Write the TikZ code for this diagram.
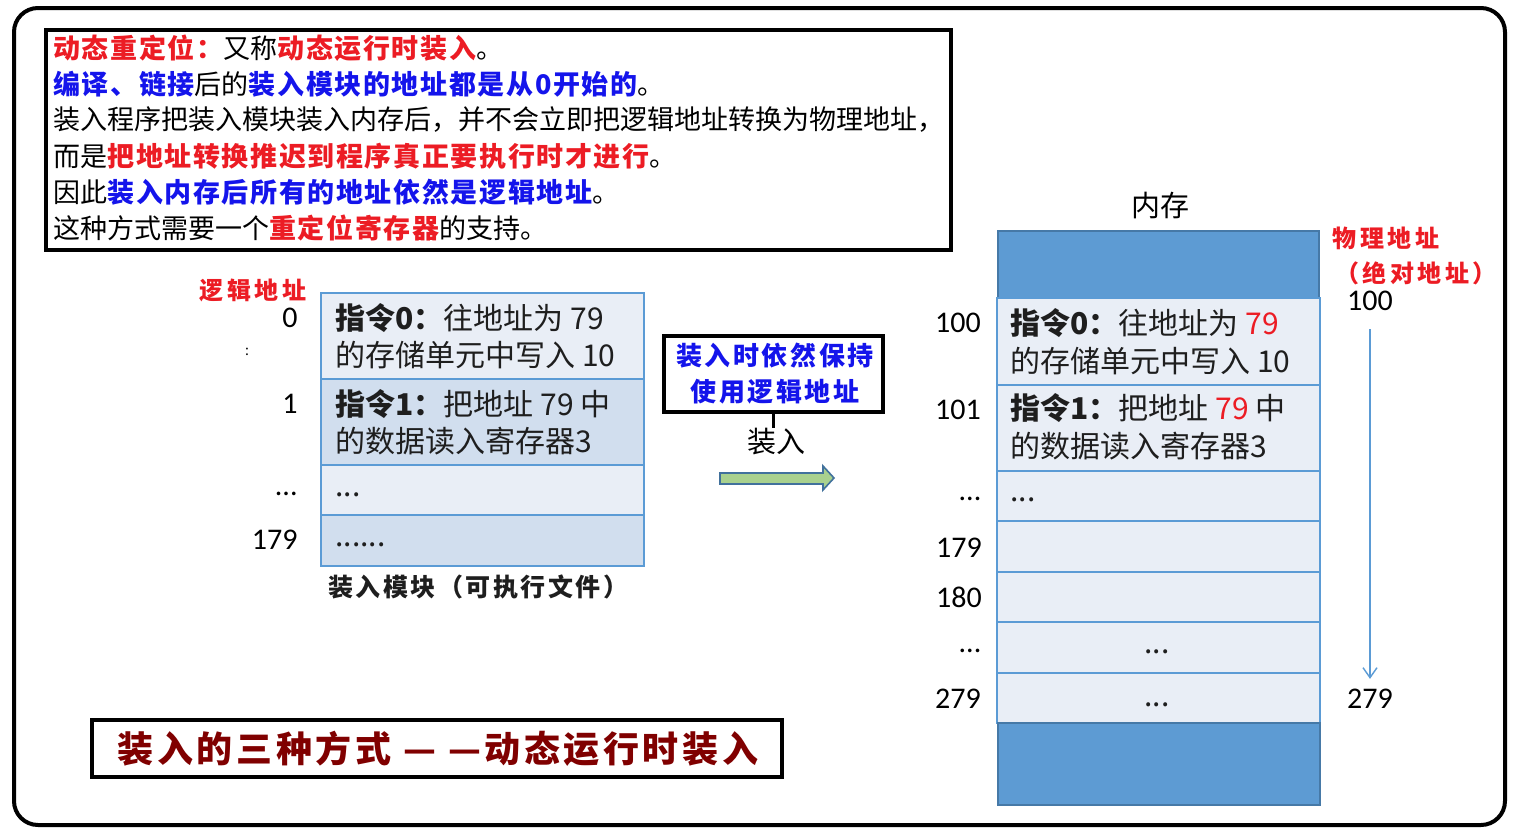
\documentclass[tikz,border=0pt]{standalone}
\usepackage{fontspec}
\setmainfont{Noto Sans CJK SC}
\newfontfamily\numf{Carlito}
\newfontfamily\lsA{Noto Sans CJK SC}[LetterSpace=6]
\newfontfamily\lsB{Noto Sans CJK SC}[LetterSpace=10]
\newfontfamily\lsC{Noto Sans CJK SC}[LetterSpace=15]
\usetikzlibrary{arrows.meta}
\definecolor{cellA}{RGB}{233,238,246}
\definecolor{cellB}{RGB}{209,222,238}
\definecolor{cellline}{RGB}{91,155,213}
\definecolor{memblue}{RGB}{93,155,211}
\definecolor{tred}{RGB}{236,28,36}
\definecolor{tblue}{RGB}{20,20,235}
\definecolor{dred}{RGB}{128,0,0}
\definecolor{agreen}{RGB}{169,209,142}
\definecolor{aedge}{RGB}{65,113,156}
\definecolor{ink}{RGB}{30,30,30}
\newcommand{\rb}[1]{\textcolor{tred}{\lsA\bfseries #1}}
\newcommand{\bb}[1]{\textcolor{tblue}{\lsA\bfseries #1}}
\tikzset{
  topline/.style={anchor=west, inner sep=0pt, font=\fontsize{13.5pt}{15pt}\selectfont},
  celltxt/.style={anchor=west, inner sep=0pt, text=ink, font=\fontsize{15pt}{17pt}\selectfont},
  numlbl/.style={inner sep=0pt, text=black, font=\numf\fontsize{15pt}{17pt}\selectfont},
  redhead/.style={inner sep=0pt, text=tred, font=\lsC\bfseries\fontsize{12pt}{14pt}\selectfont},
  cellAfill/.style={fill=cellA, draw=cellline, line width=1pt},
  cellBfill/.style={fill=cellB, draw=cellline, line width=1pt},
  memdark/.style={fill=memblue, draw=aedge!80!cellline, line width=1pt},
  blackbox/.style={draw=black, line width=1.6pt},
}
\begin{document}
\begin{tikzpicture}[x=0.5pt,y=-0.5pt]
\useasboundingbox (0,0) rectangle (1522,831);
% outer frame
\draw[line width=2pt, rounded corners=12pt] (14,8) rectangle (1505,825);

% top text box
\draw[blackbox] (46,30) rectangle (951,250);
\node[topline] (t1) at (53,48) {\rb{动态重定位：}又称\rb{动态运行时装入}。};
\node[topline] (t2) at (53,84) {\bb{编译、链接}后的\bb{装入模块的地址都是从0开始的}。};
\node[topline] (t3) at (53,120) {装入程序把装入模块装入内存后，并不会立即把逻辑地址转换为物理地址，};
\node[topline] (t4) at (53,156) {而是\rb{把地址转换推迟到程序真正要执行时才进行}。};
\node[topline] (t5) at (53,192) {因此\bb{装入内存后所有的地址依然是逻辑地址}。};
\node[topline] (t6) at (53,228) {这种方式需要一个\rb{重定位寄存器}的支持。};

% left module
\node[redhead] (lhead) at (253,290) {逻辑地址};
\path[cellAfill] (321,293) rectangle (644,379);
\path[cellBfill] (321,379) rectangle (644,465);
\path[cellAfill] (321,465) rectangle (644,515);
\path[cellBfill] (321,515) rectangle (644,566);
\node[celltxt] (l0a) at (335,318) {\textbf{指令0：}往地址为 79};
\node[celltxt] (l0b) at (335,355) {的存储单元中写入 10};
\node[celltxt] (l1a) at (335,404) {\textbf{指令1：}把地址 79 中};
\node[celltxt] (l1b) at (335,441) {的数据读入寄存器3};
\node[celltxt] (l2) at (335,495) {...};
\node[celltxt] (l3) at (335,545) {......};
\node[numlbl, anchor=east] (ln0) at (298,318) {0};
\node[inner sep=0pt, font=\fontsize{7pt}{8pt}\selectfont] (lcolon) at (247,352) {:};
\node[numlbl, anchor=east] (ln1) at (298,404) {1};
\node[numlbl, anchor=east] (ln2) at (298,494) {...};
\node[numlbl, anchor=east] (ln3) at (298,540) {179};
\node[inner sep=0pt, text=ink, font=\lsB\bfseries\fontsize{12.5pt}{14pt}\selectfont] (lcap) at (478,587) {装入模块（可执行文件）};

% middle
\node[blackbox, minimum width=109.5pt, minimum height=38pt, inner sep=0pt] (keep) at (773.5,374) {};
\node[inner sep=0pt, text=tblue, font=\lsB\bfseries\fontsize{13pt}{14pt}\selectfont] (k1) at (775,356) {装入时依然保持};
\node[inner sep=0pt, text=tblue, font=\lsB\bfseries\fontsize{13pt}{14pt}\selectfont] (k2) at (775,392) {使用逻辑地址};
\node[inner sep=0pt, font=\fontsize{14.5pt}{16pt}\selectfont] (zr) at (776,442) {装入};
\draw[line width=1.5pt] (keep.south) -- ++(0,14) coordinate (kend);
\draw[fill=agreen, draw=aedge, line width=0.8pt] (720,473) -- (823,473) -- (823,466) -- (834,478) -- (823,490) -- (823,484) -- (720,484) -- cycle;

% memory
\node[inner sep=0pt, font=\fontsize{14.5pt}{16pt}\selectfont] (mem) at (1160,206) {内存};
\path[memdark] (998,231) rectangle (1319,298);
\path[cellAfill] (997,298) rectangle (1320,385);
\path[cellAfill] (997,385) rectangle (1320,471);
\path[cellAfill] (997,471) rectangle (1320,521);
\path[cellAfill] (997,521) rectangle (1320,572);
\path[cellAfill] (997,572) rectangle (1320,622);
\path[cellAfill] (997,622) rectangle (1320,673);
\path[cellAfill] (997,673) rectangle (1320,723);
\path[memdark] (998,723) rectangle (1320,805);
\node[celltxt] (m0a) at (1010,323) {\textbf{指令0：}往地址为 \textcolor{tred}{79}};
\node[celltxt] (m0b) at (1010,361) {的存储单元中写入 10};
\node[celltxt] (m1a) at (1010,408) {\textbf{指令1：}把地址 \textcolor{tred}{79} 中};
\node[celltxt] (m1b) at (1010,446) {的数据读入寄存器3};
\node[celltxt] (m2) at (1010,500) {...};
\node[celltxt, anchor=center] (m5) at (1157,652) {...};
\node[celltxt, anchor=center] (m6) at (1157,705) {...};
\node[numlbl] (mn0) at (958,323) {100};
\node[numlbl] (mn1) at (958,410) {101};
\node[numlbl] (mn2) at (970,499) {...};
\node[numlbl] (mn3) at (959,548) {179};
\node[numlbl] (mn4) at (959,597) {180};
\node[numlbl] (mn5) at (970,651) {...};
\node[numlbl] (mn6) at (958,699) {279};

% physical address
\node[redhead] (phead) at (1386,238) {物理地址};
\node[redhead] (phead2) at (1416,273) {（绝对地址）};
\node[numlbl] (p100) at (1370,301) {100};
\node[numlbl] (p279) at (1370,699) {279};
\draw[cellline, line width=0.7pt, -{Straight Barb[length=5pt,width=7pt]}, shorten <=9pt, shorten >=5pt] (p100.south) -- (p279.north);

% bottom title
\draw[line width=2pt] (92,720) rectangle (782,777);
\node[inner sep=0pt, text=dred, font=\lsB\bfseries\fontsize{18pt}{20pt}\selectfont] (title) at (438,749) {装入的三种方式 — —动态运行时装入};
\end{tikzpicture}
\end{document}
